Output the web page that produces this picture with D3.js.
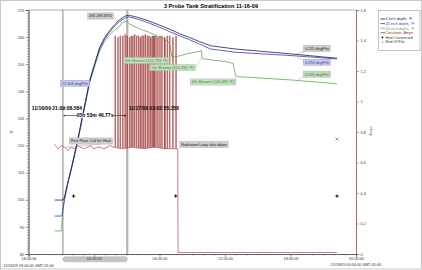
<!DOCTYPE html>
<html lang="en">
<head>
<meta charset="utf-8">
<script src="https://d3js.org/d3.v7.min.js"></script>
<style>
  body { margin: 0; background: #fff; }
  text { font-family: "Liberation Sans", Arial, sans-serif; }
</style>
</head>
<body>
<svg id="chart" width="422" height="270"></svg>
<script>
// all times are hours after 11/16/09 18:00:00
const hours4 = [2.39, 3.15, 3.30, 3.58, 3.92, 4.40, 4.68, 4.95, 5.23, 5.60, 6.06, 6.51, 6.97, 7.43, 7.89, 8.35, 8.81, 9.17, 10.18, 11.10, 12.02, 12.94, 13.85, 14.77, 15.69, 16.70, 18.99, 24.04, 28.26];
const temp4  = [99.9, 99.9, 101.0, 106.1, 111.6, 120.1, 125.6, 131.1, 136.6, 144.0, 150.2, 156.1, 159.8, 162.4, 164.6, 166.4, 167.7, 168.1, 167.1, 165.85, 164.4, 162.9, 161.25, 159.8, 158.3, 156.8, 155.6, 153.8, 152.2];

const hours24 = [2.39, 3.03, 3.07, 3.30, 3.58, 3.92, 4.40, 4.68, 4.95, 5.23, 5.60, 6.06, 6.51, 6.97, 7.43, 7.89, 8.35, 8.81, 9.17, 10.18, 11.10, 12.02, 12.94, 13.85, 14.77, 15.69, 16.70, 18.99, 24.04, 28.26];
const temp24  = [94.0, 94.0, 94.4, 100.6, 105.8, 111.3, 119.8, 125.2, 130.7, 136.2, 143.6, 149.8, 155.6, 159.2, 161.8, 164.0, 165.8, 167.0, 167.5, 166.4, 165.1, 163.6, 162.0, 160.5, 159.0, 157.4, 155.6, 154.4, 153.2, 151.95];

const hours44 = [2.39, 3.03, 3.05, 3.20, 3.58, 3.92, 4.40, 4.68, 4.95, 5.23, 5.60, 6.06, 6.51, 6.97, 7.43, 7.89, 8.35, 8.62, 8.99, 9.27, 10.18, 11.10, 12.02, 12.66, 12.94, 13.15, 13.67, 14.47, 15.23, 15.84, 15.90, 16.70, 17.98, 18.74, 18.96, 19.29, 24.04, 28.26];
const temp44  = [88.5, 88.5, 91.0, 97.5, 105.6, 111.0, 119.5, 124.8, 130.2, 135.6, 143.0, 149.2, 154.8, 158.4, 160.8, 162.6, 164.0, 165.5, 165.8, 164.8, 163.0, 161.7, 159.9, 158.7, 157.5, 152.5, 152.9, 153.8, 154.4, 155.0, 152.1, 151.6, 151.0, 150.3, 145.8, 145.4, 144.2, 142.8];

const circHours = [2.39, 2.7, 3.0, 3.3, 3.6, 3.9, 4.2, 4.5, 4.8, 5.1, 5.4, 5.7, 6.0, 6.3, 6.6, 6.9, 7.2, 7.5, 7.8, 8.5, 9.5, 10.5, 11.5, 12.5, 13.6, 13.67, 13.70, 20.0, 28.26];
const circAmps  = [0.72, 0.69, 0.71, 0.70, 0.68, 0.70, 0.69, 0.71, 0.70, 0.69, 0.70, 0.71, 0.69, 0.70, 0.70, 0.69, 0.70, 0.71, 0.70, 0.69, 0.70, 0.69, 0.70, 0.69, 0.69, 0.69, 0.01, 0.01, 0.01];

const spikeHours = [7.92, 8.17, 8.38, 8.62, 8.83, 9.02, 9.24, 9.39, 9.54, 9.70, 9.88, 10.06, 10.21, 10.37, 10.52, 10.67, 10.85, 11.01, 11.17, 11.31, 11.47, 11.65, 11.83, 12.02, 12.20, 12.45, 12.69, 12.91, 13.21, 13.49];
const spikeAmps  = [1.43, 1.42, 1.43, 1.43, 1.44, 1.43, 1.42, 1.43, 1.43, 1.44, 1.43, 1.43, 1.42, 1.43, 1.43, 1.44, 1.43, 1.43, 1.42, 1.43, 1.43, 1.43, 1.42, 1.43, 1.43, 1.42, 1.43, 1.43, 1.42, 1.43];

const hostHours = [4.13, 13.49, 28.26];
const hostAmps  = [0.38, 0.38, 0.38];
const eofHours = [28.26];
const eofAmps  = [0.754];

const cursorHours = [3.1524, 9.0487];   // 21:09:08.584 and 03:02:55.356

const leftTicks  = [80, 90, 100, 110, 120, 130, 140, 150, 160, 170];
const rightTicks = [0, 0.2, 0.4, 0.6, 0.8, 1, 1.2, 1.4, 1.6];
const timeTicks  = [0, 6, 12, 18, 24, 30];
const timeLabels = ["18:00:00", "00:00:00", "06:00:00", "12:00:00", "18:00:00", "00:00:00"];

const seriesNames = ["4 inch depth, °F", "24 inch depth, °F", "44 inch depth, °F", "Circulator, Amps"];

const c4 = "#1c1c4e", c24 = "#3a3ab8", c44 = "#5caa4c", cCirc = "#9b2a2a", cAxisR = "#a0604a";

const svg = d3.select("#chart");

svg.append("rect").attr("x", 0.5).attr("y", 0.5).attr("width", 421).attr("height", 268.5)
  .attr("fill", "#fff").attr("stroke", "#c8c8c8");

const x = d3.scaleLinear().domain([0, 30]).range([28.5, 356]);
const yL = d3.scaleLinear().domain([80, 170]).range([254, 10]);
const yR = d3.scaleLinear().domain([0, 1.6]).range([254, 10]);

// top frame line
svg.append("line").attr("x1", x(0)).attr("x2", x(30)).attr("y1", 10).attr("y2", 10)
  .attr("stroke", "#777").attr("stroke-width", 0.6);

// cursors
svg.append("line").attr("x1", x(cursorHours[0])).attr("x2", x(cursorHours[0]))
  .attr("y1", 10).attr("y2", 254).attr("stroke", "#555").attr("stroke-width", 0.7);
svg.append("line").attr("x1", x(cursorHours[1])).attr("x2", x(cursorHours[1]))
  .attr("y1", 10).attr("y2", 254).attr("stroke", "#b4b4b4").attr("stroke-width", 2.2);

// circulator with spikes
const baseAt = d3.scaleLinear().domain(circHours.slice(0, 25)).range(circAmps.slice(0, 25));
let circ = circHours.map((h, i) => [h, circAmps[i]]);
spikeHours.forEach((h, i) => {
  const b = baseAt(h);
  circ.push([h - 0.0001, b], [h, spikeAmps[i]], [h + 0.05, spikeAmps[i]], [h + 0.0501, b]);
});
circ.sort((a, b) => a[0] - b[0]);

svg.append("path").datum(circ)
  .attr("d", d3.line().x(d => x(d[0])).y(d => yR(d[1])))
  .attr("fill", "none").attr("stroke", cCirc).attr("stroke-width", 0.6);

// temperature lines
function tempLine(hs, vs, color) {
  svg.append("path").datum(hs.map((h, i) => [h, vs[i]]))
    .attr("d", d3.line().x(d => x(d[0])).y(d => yL(d[1])))
    .attr("fill", "none").attr("stroke", color).attr("stroke-width", 0.8);
}
tempLine(hours44, temp44, c44);
tempLine(hours24, temp24, c24);
tempLine(hours4, temp4, c4);

// markers
const star = "M0,-2.3L0.6,-0.6L2.3,0L0.6,0.6L0,2.3L-0.6,0.6L-2.3,0L-0.6,-0.6Z";
svg.selectAll(".host").data(hostHours).enter().append("path")
  .attr("d", star).attr("fill", "#111")
  .attr("transform", (h, i) => `translate(${x(h)},${yR(hostAmps[i])})`);
const cross = "M-1.6,-1.6L1.6,1.6M-1.6,1.6L1.6,-1.6";
svg.selectAll(".eof").data(eofHours).enter().append("path")
  .attr("d", cross).attr("fill", "none").attr("stroke", "#666").attr("stroke-width", 0.6)
  .attr("transform", (h, i) => `translate(${x(h)},${yR(eofAmps[i])})`);

// annotation boxes
function box(cx, cy, txt, fill, color, stroke) {
  const g = svg.append("g");
  const t = g.append("text").attr("x", cx).attr("y", cy).attr("dy", "0.35em")
    .attr("text-anchor", "middle").attr("font-size", 3.9).attr("fill", color).text(txt);
  const w = t.node().getComputedTextLength() + 3;
  g.insert("rect", "text").attr("x", cx - w / 2).attr("y", cy - 3.1).attr("width", w).attr("height", 6.2)
    .attr("fill", fill).attr("stroke", stroke || "#aaa").attr("stroke-width", 0.4);
}
function lead(x1, y1, x2, y2, color) {
  svg.append("line").attr("x1", x1).attr("y1", y1).attr("x2", x2).attr("y2", y2)
    .attr("stroke", color).attr("stroke-width", 0.4);
}

lead(304, 51, 297, x(0) ? yL(153.9) : 0, "#888");
lead(304, 62, 297, yL(153.0), "#888");
lead(304, 76, 297, yL(143.9), "#888");
lead(170, 62, x(13.2), yL(152.4), "#8a8");
lead(195, 69, x(15.88), yL(152.6), "#8a8");
lead(236, 84, x(19.0), yL(145.6), "#8a8");
lead(112, 143, x(cursorHours[0]) + 2, yR(0.70), "#888");

box(100.5, 16, "491.495 BTU", "#cdcdcd", "#222");
box(75, 83.3, "12.308 degF/hr", "#c9c9ea", "#3a3ab8", "#99a");
box(146.5, 60.5, "6th Shower (151.719 °F)", "#c6dfc0", "#3c8a32", "#9b9");
box(172.5, 67.5, "5th Shower (151.294 °F)", "#c6dfc0", "#3c8a32", "#9b9");
box(213, 82, "4th Shower (146.383 °F)", "#c6dfc0", "#3c8a32", "#9b9");
box(91, 141, "First Floor Call for Heat", "#cdcdcd", "#222");
box(204, 144.5, "Bathroom Loop shut down", "#cdcdcd", "#222");
box(317, 48.5, "0.211 degF/hr", "#cdcdcd", "#222");
box(317, 62.3, "0.294 degF/hr", "#c9c9ea", "#3a3ab8", "#99a");
box(317, 74.2, "0.195 degF/hr", "#c6d6c0", "#3c8a32", "#9b9");

// cursor labels and span arrow
svg.append("text").attr("x", x(cursorHours[0]) - 6).attr("y", 110).attr("text-anchor", "middle")
  .attr("font-family", "Liberation Serif, serif").attr("font-weight", "bold").attr("font-size", 5)
  .text("11/16/09 21:09:08.584");
svg.append("text").attr("x", x(cursorHours[1]) + 1.5).attr("y", 110)
  .attr("font-family", "Liberation Serif, serif").attr("font-weight", "bold").attr("font-size", 5)
  .text("11/17/09 03:02:55.356");

const defs = svg.append("defs");
defs.append("marker").attr("id", "arr").attr("viewBox", "0 0 6 6").attr("refX", 6).attr("refY", 3)
  .attr("markerWidth", 4).attr("markerHeight", 4).attr("orient", "auto-start-reverse")
  .append("path").attr("d", "M0,0L6,3L0,6Z").attr("fill", "#000");
svg.append("line").attr("x1", x(cursorHours[0]) + 0.5).attr("x2", x(cursorHours[1]) - 1)
  .attr("y1", 115.5).attr("y2", 115.5).attr("stroke", "#000").attr("stroke-width", 0.5)
  .attr("marker-start", "url(#arr)").attr("marker-end", "url(#arr)");
const midX = (x(cursorHours[0]) + x(cursorHours[1])) / 2;
svg.append("rect").attr("x", midX - 18).attr("y", 113).attr("width", 36).attr("height", 5).attr("fill", "#fff");
svg.append("text").attr("x", midX).attr("y", 117.2).attr("text-anchor", "middle")
  .attr("font-family", "Liberation Serif, serif").attr("font-weight", "bold").attr("font-size", 5)
  .text("05h 53m 46.77s");

// scroll thumb under the x axis
svg.append("rect").attr("x", x(cursorHours[0])).attr("y", 256.8)
  .attr("width", x(cursorHours[1]) - x(cursorHours[0])).attr("height", 5).attr("rx", 2.5)
  .attr("fill", "#c6c6c6").attr("stroke", "#9a9a9a").attr("stroke-width", 0.4);

// axes
function styleAxis(g, color) {
  g.select(".domain").attr("stroke", color).attr("stroke-width", 0.7);
  g.selectAll(".tick line").attr("stroke", color).attr("stroke-width", 0.5);
  g.selectAll(".tick text").attr("font-size", 3.8).attr("fill", "#333")
    .attr("font-family", "Liberation Sans, Arial, sans-serif");
}

const gLMinor = svg.append("g").attr("transform", `translate(${x(0)},0)`)
  .call(d3.axisLeft(yL).tickValues(d3.range(80, 171, 1)).tickSize(1.5).tickFormat(""));
styleAxis(gLMinor, "#555");
const gL = svg.append("g").attr("transform", `translate(${x(0)},0)`)
  .call(d3.axisLeft(yL).tickValues(leftTicks).tickSize(3).tickPadding(1.5));
styleAxis(gL, "#555");

const gRMinor = svg.append("g").attr("transform", `translate(${x(30)},0)`)
  .call(d3.axisRight(yR).tickValues(d3.range(0, 17, 1).map(d => d / 10)).tickSize(1.5).tickFormat(""));
styleAxis(gRMinor, cAxisR);
const gR = svg.append("g").attr("transform", `translate(${x(30)},0)`)
  .call(d3.axisRight(yR).tickValues(rightTicks).tickSize(3).tickPadding(1.5).tickFormat(d3.format("~g")));
styleAxis(gR, cAxisR);

const gBMinor = svg.append("g").attr("transform", "translate(0,254)")
  .call(d3.axisBottom(x).tickValues(d3.range(0, 31, 1)).tickSize(1.5).tickFormat(""));
styleAxis(gBMinor, "#555");
const gB = svg.append("g").attr("transform", "translate(0,254)")
  .call(d3.axisBottom(x).tickValues(timeTicks).tickSize(3).tickPadding(0.8)
    .tickFormat((d, i) => timeLabels[i]));
styleAxis(gB, "#555");

svg.append("text").attr("x", x(0)).attr("y", 266.5).attr("text-anchor", "middle")
  .attr("font-size", 3.8).attr("fill", "#333").text("11/16/09 18:00:00 GMT-05:00");
svg.append("text").attr("x", x(30)).attr("y", 265.5).attr("text-anchor", "middle")
  .attr("font-size", 3.8).attr("fill", "#333").text("11/18/09 00:00:00 GMT-05:00");

// axis titles
svg.append("text").attr("transform", "translate(13,132) rotate(-90)").attr("text-anchor", "middle")
  .attr("font-size", 3.8).attr("fill", "#333").text("°F");
svg.append("text").attr("transform", "translate(372,131) rotate(-90)").attr("text-anchor", "middle")
  .attr("font-size", 3.8).attr("fill", cAxisR).text("Amps");

// title
svg.append("text").attr("x", 211).attr("y", 8).attr("text-anchor", "middle")
  .attr("font-family", "Liberation Serif, serif").attr("font-weight", "bold").attr("font-size", 5.6)
  .text("3 Probe Tank Stratification 11-16-09");

// legend
const lg = svg.append("g");
lg.append("rect").attr("x", 378.5).attr("y", 10.5).attr("width", 41.5).attr("height", 40)
  .attr("fill", "#fff").attr("stroke", "#888").attr("stroke-width", 0.5);
const legColors = [c4, c24, c44, cCirc];
seriesNames.forEach((name, i) => {
  const yy = 19 + i * 4.6;
  lg.append("line").attr("x1", 380.5).attr("x2", 385).attr("y1", yy).attr("y2", yy)
    .attr("stroke", legColors[i]).attr("stroke-width", 0.8);
  lg.append("text").attr("x", 385.5).attr("y", yy).attr("dy", "0.35em")
    .attr("font-size", 3.8).attr("fill", legColors[i]).text(name);
});
lg.append("path").attr("d", star).attr("fill", "#111")
  .attr("transform", `translate(382.5,${19 + 4 * 4.6}) scale(0.7)`);
lg.append("text").attr("x", 385.5).attr("y", 19 + 4 * 4.6).attr("dy", "0.35em")
  .attr("font-size", 3.8).attr("fill", "#333").text("Host Connected");
lg.append("path").attr("d", cross).attr("stroke", "#666").attr("stroke-width", 0.5)
  .attr("transform", `translate(382.5,${19 + 5 * 4.6}) scale(0.7)`);
lg.append("text").attr("x", 385.5).attr("y", 19 + 5 * 4.6).attr("dy", "0.35em")
  .attr("font-size", 3.8).attr("fill", "#333").text("End Of File");
</script>
</body>
</html>
